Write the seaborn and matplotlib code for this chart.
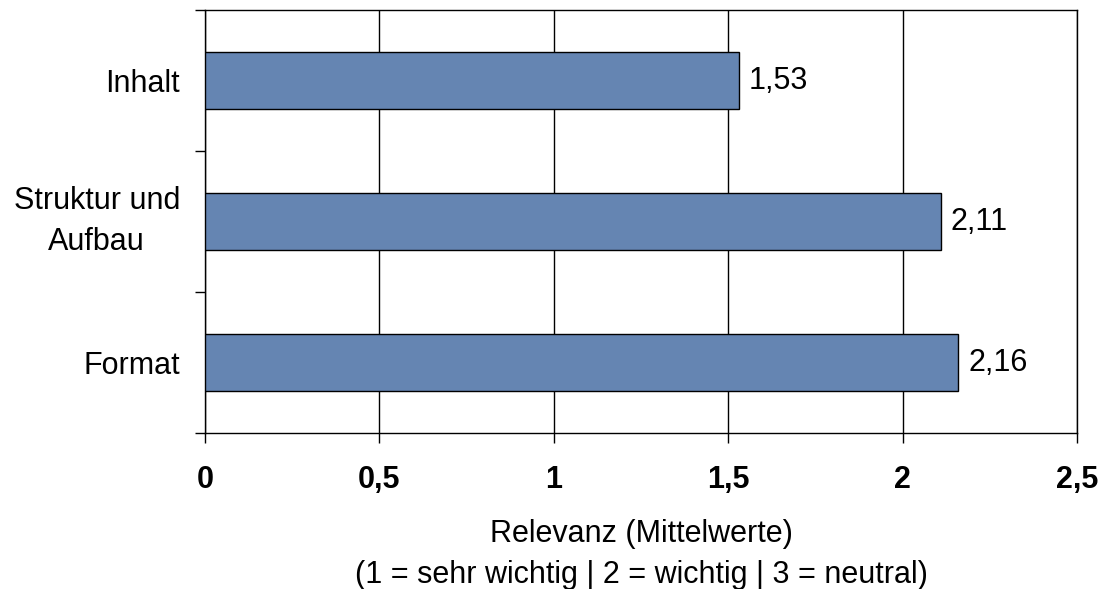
import matplotlib
matplotlib.use("Agg")
import matplotlib.pyplot as plt
from matplotlib.ticker import FixedLocator, FuncFormatter
import seaborn as sns
import pandas as pd

categories = ["Inhalt", "Struktur und\nAufbau", "Format"]
values = [1.53, 2.11, 2.16]
x_ticks = [0, 0.5, 1, 1.5, 2, 2.5]
x_label = "Relevanz (Mittelwerte)\n(1 = sehr wichtig | 2 = wichtig | 3 = neutral)"

sns.set_style("white")
plt.rcParams["font.family"] = ["Liberation Sans", "DejaVu Sans"]
plt.rcParams["text.color"] = "black"
plt.rcParams["axes.labelcolor"] = "black"
plt.rcParams["xtick.color"] = "black"
plt.rcParams["ytick.color"] = "black"
FS = 22

def de(v, digits=None):
    s = f"{v:.{digits}f}" if digits is not None else f"{v:g}"
    return s.replace(".", ",")

df = pd.DataFrame({"Kategorie": categories, "Wert": values})

fig = plt.figure(figsize=(11.01, 5.89), dpi=100)
ax = fig.add_axes([205 / 1101, 1 - 433 / 589, (1077 - 205) / 1101, (433 - 10) / 589])

sns.barplot(data=df, x="Wert", y="Kategorie", orient="h", color="#6585B2",
            edgecolor="black", linewidth=1.0, width=0.4, saturation=1, ax=ax, zorder=3)

ax.set_xlim(0, 2.5)
ax.set_ylim(2.5, -0.5)
ax.set_axisbelow(True)

# vertical grid lines
ax.xaxis.set_major_locator(FixedLocator(x_ticks))
ax.xaxis.set_major_formatter(FuncFormatter(lambda v, p: de(v)))
ax.grid(axis="x", color="black", linewidth=1.0)
ax.grid(axis="y", visible=False)

for sp in ax.spines.values():
    sp.set_visible(True)
    sp.set_color("black")
    sp.set_linewidth(1.0)

# category boundaries carry the y tick marks
ax.yaxis.set_minor_locator(FixedLocator([-0.5, 0.5, 1.5, 2.5]))
ax.tick_params(axis="y", which="minor", length=7, width=1.0, color="black", left=True)
ax.tick_params(axis="y", which="major", length=0, pad=18, labelsize=FS)
for lbl in ax.get_yticklabels():
    lbl.set_multialignment("center")
    lbl.set_linespacing(1.5)
    if "\n" in lbl.get_text():
        lbl.set_verticalalignment("center")

ax.tick_params(axis="x", which="major", length=7, width=1.0, color="black",
               bottom=True, pad=16, labelsize=FS)
for lbl in ax.get_xticklabels():
    lbl.set_fontweight("bold")

ax.set_ylabel("")
ax.set_xlabel(x_label, fontsize=FS, labelpad=17, linespacing=1.5)

for i, v in enumerate(values):
    ax.annotate(de(v, 2), xy=(v, i), xytext=(7, 0), textcoords="offset points",
                ha="left", va="center", fontsize=FS)

fig.savefig("out.png", dpi=100)
